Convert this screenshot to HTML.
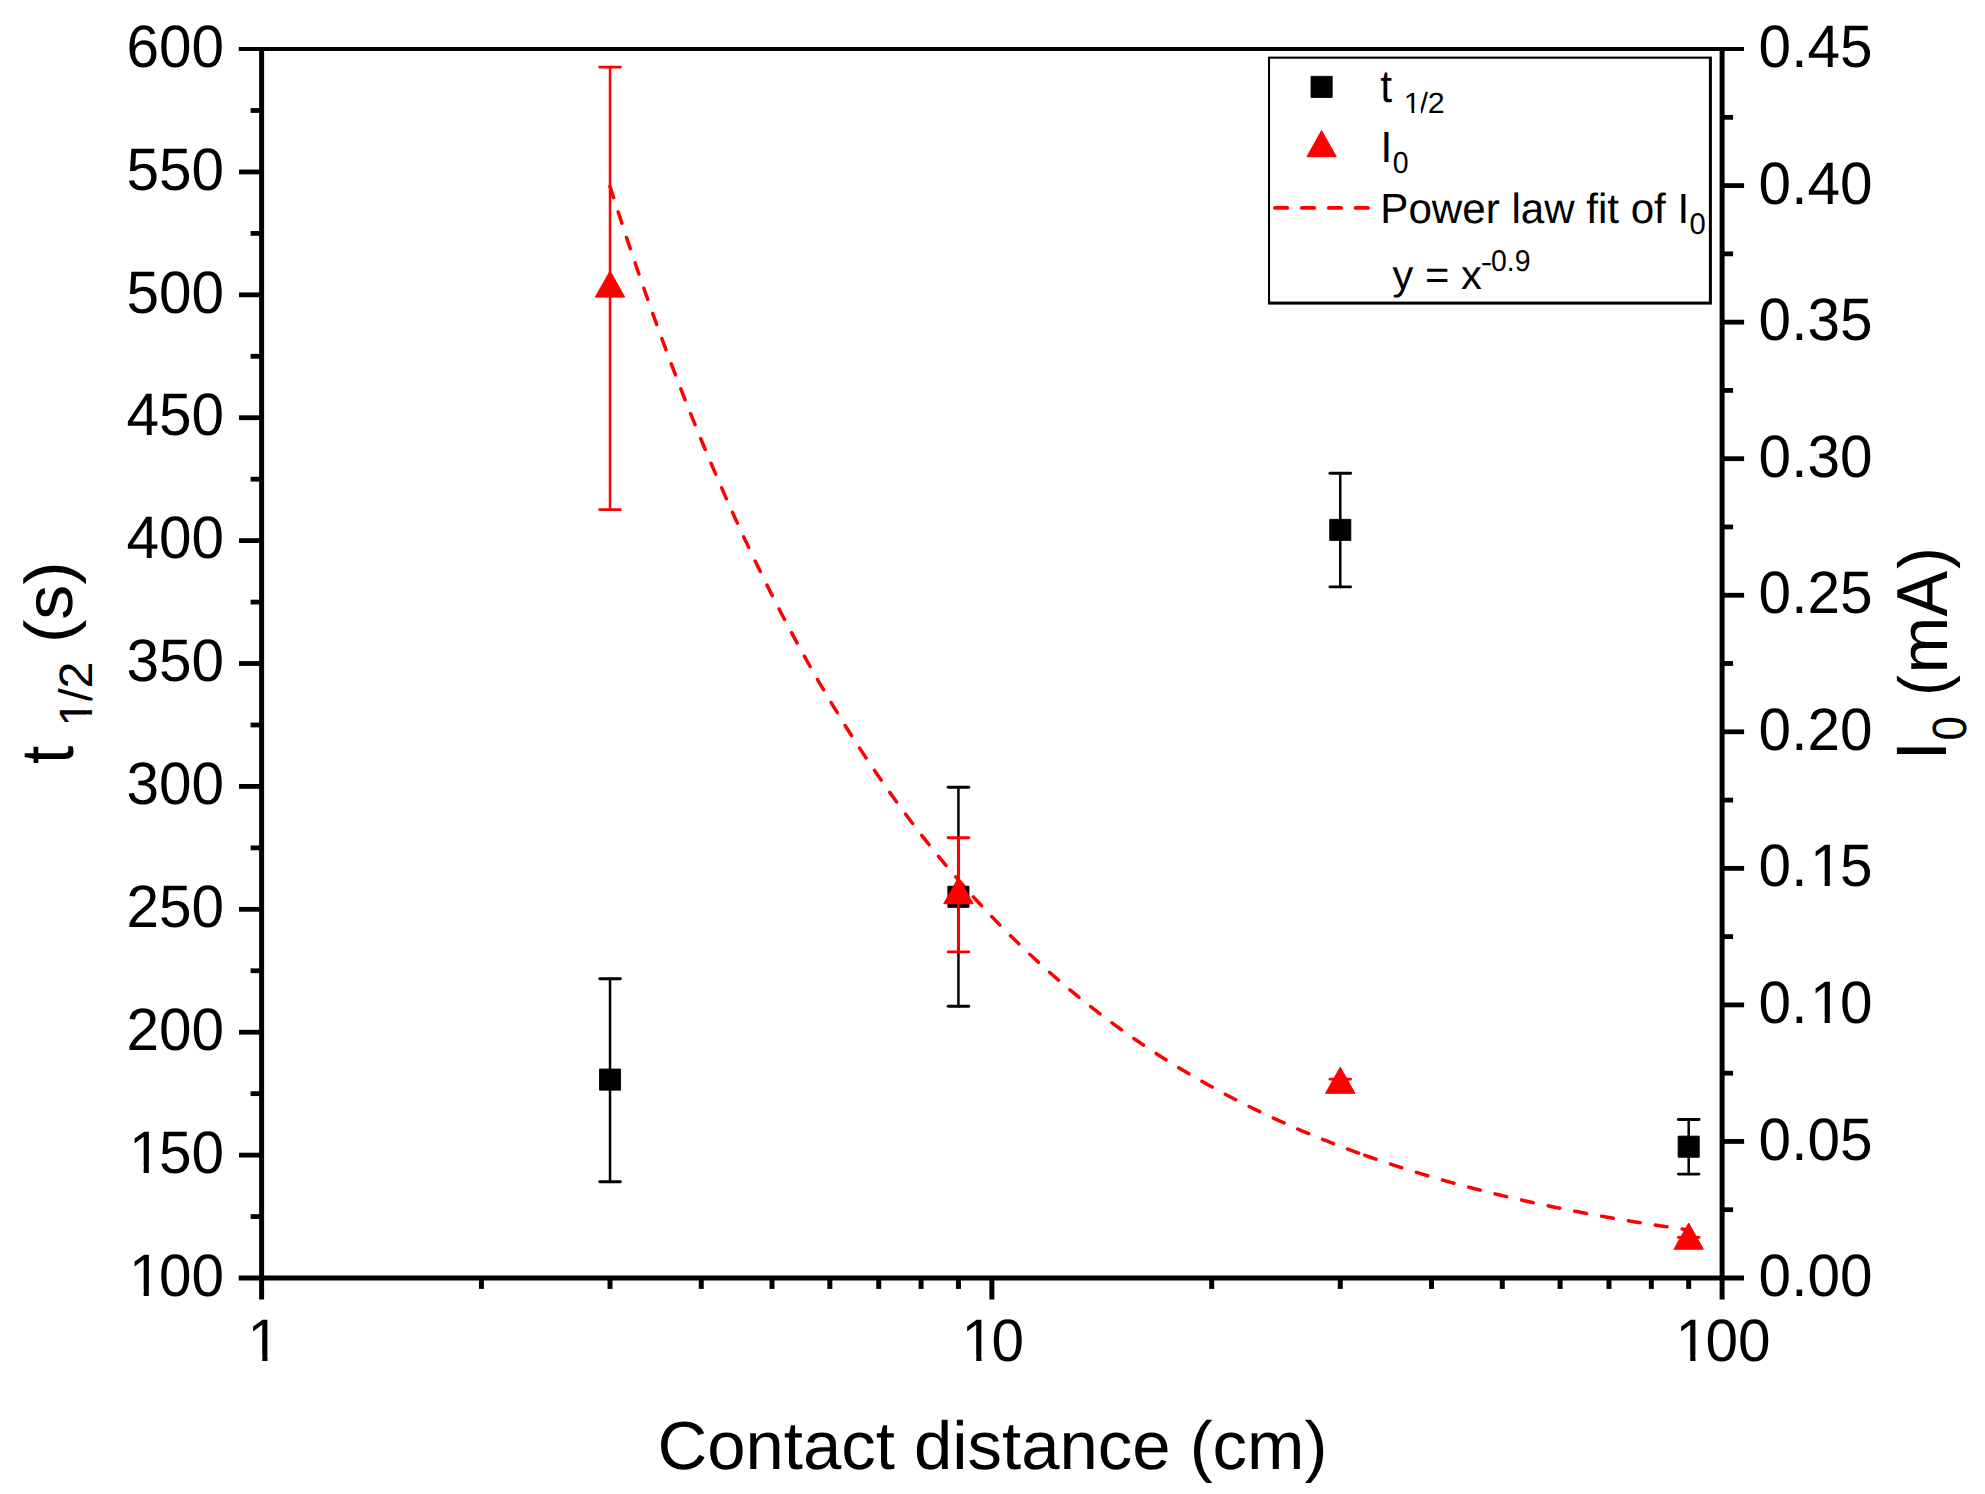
<!DOCTYPE html>
<html lang="en"><head><meta charset="utf-8"><title>t1/2 and I0 vs contact distance</title>
<style>html,body{margin:0;padding:0;background:#fff;}svg{display:block;}text{font-family:"Liberation Sans",sans-serif;fill:#000;font-kerning:none;text-rendering:geometricPrecision;}</style>
</head><body>
<svg width="1985" height="1494" viewBox="0 0 1985 1494">
<rect x="0" y="0" width="1985" height="1494" fill="#ffffff"/>
<g stroke="#000" fill="none" stroke-linecap="butt">
<line x1="238.7" y1="49.05" x2="1744.0" y2="49.05" stroke-width="4.1"/>
<line x1="238.7" y1="1278.0" x2="1744.0" y2="1278.0" stroke-width="4.8"/>
<line x1="261.6" y1="47.00" x2="261.6" y2="1299.50" stroke-width="5.0"/>
<line x1="1722.1" y1="47.00" x2="1722.1" y2="1299.50" stroke-width="5.0"/>
<line x1="239.00" y1="1155.11" x2="261.60" y2="1155.11" stroke-width="4.8"/>
<line x1="239.00" y1="1032.21" x2="261.60" y2="1032.21" stroke-width="4.8"/>
<line x1="239.00" y1="909.32" x2="261.60" y2="909.32" stroke-width="4.8"/>
<line x1="239.00" y1="786.42" x2="261.60" y2="786.42" stroke-width="4.8"/>
<line x1="239.00" y1="663.52" x2="261.60" y2="663.52" stroke-width="4.8"/>
<line x1="239.00" y1="540.63" x2="261.60" y2="540.63" stroke-width="4.8"/>
<line x1="239.00" y1="417.74" x2="261.60" y2="417.74" stroke-width="4.8"/>
<line x1="239.00" y1="294.84" x2="261.60" y2="294.84" stroke-width="4.8"/>
<line x1="239.00" y1="171.94" x2="261.60" y2="171.94" stroke-width="4.8"/>
<line x1="250.60" y1="1216.55" x2="261.60" y2="1216.55" stroke-width="4.8"/>
<line x1="250.60" y1="1093.66" x2="261.60" y2="1093.66" stroke-width="4.8"/>
<line x1="250.60" y1="970.76" x2="261.60" y2="970.76" stroke-width="4.8"/>
<line x1="250.60" y1="847.87" x2="261.60" y2="847.87" stroke-width="4.8"/>
<line x1="250.60" y1="724.97" x2="261.60" y2="724.97" stroke-width="4.8"/>
<line x1="250.60" y1="602.08" x2="261.60" y2="602.08" stroke-width="4.8"/>
<line x1="250.60" y1="479.18" x2="261.60" y2="479.18" stroke-width="4.8"/>
<line x1="250.60" y1="356.29" x2="261.60" y2="356.29" stroke-width="4.8"/>
<line x1="250.60" y1="233.39" x2="261.60" y2="233.39" stroke-width="4.8"/>
<line x1="250.60" y1="110.50" x2="261.60" y2="110.50" stroke-width="4.8"/>
<line x1="1722.10" y1="1141.45" x2="1744.10" y2="1141.45" stroke-width="4.8"/>
<line x1="1722.10" y1="1004.90" x2="1744.10" y2="1004.90" stroke-width="4.8"/>
<line x1="1722.10" y1="868.35" x2="1744.10" y2="868.35" stroke-width="4.8"/>
<line x1="1722.10" y1="731.80" x2="1744.10" y2="731.80" stroke-width="4.8"/>
<line x1="1722.10" y1="595.25" x2="1744.10" y2="595.25" stroke-width="4.8"/>
<line x1="1722.10" y1="458.70" x2="1744.10" y2="458.70" stroke-width="4.8"/>
<line x1="1722.10" y1="322.15" x2="1744.10" y2="322.15" stroke-width="4.8"/>
<line x1="1722.10" y1="185.60" x2="1744.10" y2="185.60" stroke-width="4.8"/>
<line x1="1722.10" y1="1209.72" x2="1733.10" y2="1209.72" stroke-width="4.8"/>
<line x1="1722.10" y1="1073.17" x2="1733.10" y2="1073.17" stroke-width="4.8"/>
<line x1="1722.10" y1="936.62" x2="1733.10" y2="936.62" stroke-width="4.8"/>
<line x1="1722.10" y1="800.08" x2="1733.10" y2="800.08" stroke-width="4.8"/>
<line x1="1722.10" y1="663.52" x2="1733.10" y2="663.52" stroke-width="4.8"/>
<line x1="1722.10" y1="526.97" x2="1733.10" y2="526.97" stroke-width="4.8"/>
<line x1="1722.10" y1="390.42" x2="1733.10" y2="390.42" stroke-width="4.8"/>
<line x1="1722.10" y1="253.87" x2="1733.10" y2="253.87" stroke-width="4.8"/>
<line x1="1722.10" y1="117.32" x2="1733.10" y2="117.32" stroke-width="4.8"/>
<line x1="991.85" y1="1278.0" x2="991.85" y2="1299.50" stroke-width="5.0"/>
<line x1="481.43" y1="1278.0" x2="481.43" y2="1288.90" stroke-width="5.0"/>
<line x1="610.02" y1="1278.0" x2="610.02" y2="1288.90" stroke-width="5.0"/>
<line x1="701.25" y1="1278.0" x2="701.25" y2="1288.90" stroke-width="5.0"/>
<line x1="772.02" y1="1278.0" x2="772.02" y2="1288.90" stroke-width="5.0"/>
<line x1="829.84" y1="1278.0" x2="829.84" y2="1288.90" stroke-width="5.0"/>
<line x1="878.73" y1="1278.0" x2="878.73" y2="1288.90" stroke-width="5.0"/>
<line x1="921.08" y1="1278.0" x2="921.08" y2="1288.90" stroke-width="5.0"/>
<line x1="958.44" y1="1278.0" x2="958.44" y2="1288.90" stroke-width="5.0"/>
<line x1="1211.68" y1="1278.0" x2="1211.68" y2="1288.90" stroke-width="5.0"/>
<line x1="1340.27" y1="1278.0" x2="1340.27" y2="1288.90" stroke-width="5.0"/>
<line x1="1431.50" y1="1278.0" x2="1431.50" y2="1288.90" stroke-width="5.0"/>
<line x1="1502.27" y1="1278.0" x2="1502.27" y2="1288.90" stroke-width="5.0"/>
<line x1="1560.09" y1="1278.0" x2="1560.09" y2="1288.90" stroke-width="5.0"/>
<line x1="1608.98" y1="1278.0" x2="1608.98" y2="1288.90" stroke-width="5.0"/>
<line x1="1651.33" y1="1278.0" x2="1651.33" y2="1288.90" stroke-width="5.0"/>
<line x1="1688.69" y1="1278.0" x2="1688.69" y2="1288.90" stroke-width="5.0"/>
</g>
<path d="M610.02,186.46 L615.45,203.49 L620.88,220.25 L626.31,236.75 L631.74,253.00 L637.17,268.98 L642.60,284.72 L648.03,300.22 L653.46,315.47 L658.89,330.49 L664.32,345.27 L669.74,359.82 L675.17,374.14 L680.60,388.24 L686.03,402.12 L691.46,415.78 L696.89,429.23 L702.32,442.47 L707.75,455.50 L713.18,468.33 L718.61,480.96 L724.04,493.40 L729.47,505.64 L734.90,517.68 L740.33,529.54 L745.76,541.22 L751.19,552.71 L756.62,564.03 L762.05,575.16 L767.48,586.13 L772.91,596.92 L778.34,607.54 L783.77,618.00 L789.20,628.30 L794.63,638.43 L800.06,648.41 L805.49,658.23 L810.92,667.90 L816.35,677.42 L821.78,686.78 L827.21,696.01 L832.64,705.08 L838.07,714.02 L843.50,722.82 L848.93,731.48 L854.36,740.00 L859.79,748.40 L865.22,756.66 L870.64,764.79 L876.07,772.80 L881.50,780.68 L886.93,788.43 L892.36,796.07 L897.79,803.59 L903.22,810.99 L908.65,818.27 L914.08,825.45 L919.51,832.51 L924.94,839.45 L930.37,846.30 L935.80,853.03 L941.23,859.66 L946.66,866.18 L952.09,872.61 L957.52,878.93 L962.95,885.16 L968.38,891.29 L973.81,897.32 L979.24,903.26 L984.67,909.10 L990.10,914.86 L995.53,920.52 L1000.96,926.10 L1006.39,931.59 L1011.82,936.99 L1017.25,942.31 L1022.68,947.55 L1028.11,952.70 L1033.54,957.78 L1038.97,962.77 L1044.40,967.69 L1049.83,972.53 L1055.26,977.29 L1060.69,981.98 L1066.11,986.60 L1071.54,991.15 L1076.97,995.62 L1082.40,1000.03 L1087.83,1004.36 L1093.26,1008.63 L1098.69,1012.83 L1104.12,1016.97 L1109.55,1021.04 L1114.98,1025.05 L1120.41,1029.00 L1125.84,1032.88 L1131.27,1036.70 L1136.70,1040.47 L1142.13,1044.17 L1147.56,1047.82 L1152.99,1051.41 L1158.42,1054.95 L1163.85,1058.42 L1169.28,1061.85 L1174.71,1065.22 L1180.14,1068.54 L1185.57,1071.81 L1191.00,1075.02 L1196.43,1078.19 L1201.86,1081.31 L1207.29,1084.38 L1212.72,1087.40 L1218.15,1090.37 L1223.58,1093.30 L1229.01,1096.18 L1234.44,1099.01 L1239.87,1101.81 L1245.30,1104.55 L1250.73,1107.26 L1256.16,1109.92 L1261.59,1112.55 L1267.01,1115.13 L1272.44,1117.67 L1277.87,1120.17 L1283.30,1122.63 L1288.73,1125.05 L1294.16,1127.44 L1299.59,1129.79 L1305.02,1132.10 L1310.45,1134.38 L1315.88,1136.62 L1321.31,1138.82 L1326.74,1140.99 L1332.17,1143.13 L1337.60,1145.23 L1343.03,1147.30 L1348.46,1149.34 L1353.89,1151.35 L1359.32,1153.33 L1364.75,1155.27" fill="none" stroke="#ff0000" stroke-width="3.5" stroke-dasharray="11.8 15.0" stroke-linecap="round" stroke-linejoin="round"/>
<path d="M1364.75,1155.27 L1367.08,1156.10 L1369.41,1156.92 L1371.74,1157.73 L1374.07,1158.54 L1376.40,1159.34 L1378.73,1160.14 L1381.06,1160.93 L1383.39,1161.72 L1385.72,1162.50 L1388.05,1163.28 L1390.39,1164.05 L1392.72,1164.82 L1395.05,1165.58 L1397.38,1166.33 L1399.71,1167.09 L1402.04,1167.83 L1404.37,1168.57 L1406.70,1169.31 L1409.03,1170.04 L1411.36,1170.77 L1413.69,1171.49 L1416.02,1172.20 L1418.35,1172.91 L1420.68,1173.62 L1423.01,1174.32 L1425.34,1175.02 L1427.67,1175.71 L1430.00,1176.40 L1432.33,1177.08 L1434.66,1177.76 L1436.99,1178.44 L1439.33,1179.11 L1441.66,1179.77 L1443.99,1180.43 L1446.32,1181.09 L1448.65,1181.74 L1450.98,1182.39 L1453.31,1183.03 L1455.64,1183.67 L1457.97,1184.30 L1460.30,1184.93 L1462.63,1185.56 L1464.96,1186.18 L1467.29,1186.80 L1469.62,1187.41 L1471.95,1188.02 L1474.28,1188.63 L1476.61,1189.23 L1478.94,1189.82 L1481.27,1190.42 L1483.60,1191.01 L1485.93,1191.59 L1488.27,1192.17 L1490.60,1192.75 L1492.93,1193.32 L1495.26,1193.89 L1497.59,1194.46 L1499.92,1195.02 L1502.25,1195.58 L1504.58,1196.13 L1506.91,1196.68 L1509.24,1197.23 L1511.57,1197.77 L1513.90,1198.31 L1516.23,1198.85 L1518.56,1199.38 L1520.89,1199.91 L1523.22,1200.44 L1525.55,1200.96 L1527.88,1201.47 L1530.21,1201.99 L1532.54,1202.50 L1534.87,1203.01 L1537.20,1203.51 L1539.54,1204.01 L1541.87,1204.51 L1544.20,1205.01 L1546.53,1205.50 L1548.86,1205.98 L1551.19,1206.47 L1553.52,1206.95 L1555.85,1207.43 L1558.18,1207.90 L1560.51,1208.37 L1562.84,1208.84 L1565.17,1209.31 L1567.50,1209.77 L1569.83,1210.23 L1572.16,1210.68 L1574.49,1211.14 L1576.82,1211.59 L1579.15,1212.03 L1581.48,1212.48 L1583.81,1212.92 L1586.14,1213.35 L1588.48,1213.79 L1590.81,1214.22 L1593.14,1214.65 L1595.47,1215.08 L1597.80,1215.50 L1600.13,1215.92 L1602.46,1216.34 L1604.79,1216.75 L1607.12,1217.16 L1609.45,1217.57 L1611.78,1217.98 L1614.11,1218.38 L1616.44,1218.78 L1618.77,1219.18 L1621.10,1219.58 L1623.43,1219.97 L1625.76,1220.36 L1628.09,1220.75 L1630.42,1221.13 L1632.75,1221.52 L1635.08,1221.90 L1637.42,1222.27 L1639.75,1222.65 L1642.08,1223.02 L1644.41,1223.39 L1646.74,1223.76 L1649.07,1224.12 L1651.40,1224.48 L1653.73,1224.84 L1656.06,1225.20 L1658.39,1225.56 L1660.72,1225.91 L1663.05,1226.26 L1665.38,1226.61 L1667.71,1226.95 L1670.04,1227.30 L1672.37,1227.64 L1674.70,1227.98 L1677.03,1228.31 L1679.36,1228.65 L1681.69,1228.98 L1684.02,1229.31 L1686.36,1229.64 L1688.69,1229.96" fill="none" stroke="#ff0000" stroke-width="3.5" stroke-dasharray="11.9 15.3" stroke-linecap="round" stroke-linejoin="round"/>
<g stroke="#000" stroke-width="2.9" stroke-linecap="round" fill="none">
<line x1="610.02" y1="978.80" x2="610.02" y2="1181.70" stroke-width="2.5"/>
<line x1="599.72" y1="978.80" x2="620.32" y2="978.80"/>
<line x1="599.72" y1="1181.70" x2="620.32" y2="1181.70"/>
</g>
<g stroke="#000" stroke-width="2.9" stroke-linecap="round" fill="none">
<line x1="958.44" y1="787.20" x2="958.44" y2="1006.30" stroke-width="2.5"/>
<line x1="948.14" y1="787.20" x2="968.74" y2="787.20"/>
<line x1="948.14" y1="1006.30" x2="968.74" y2="1006.30"/>
</g>
<g stroke="#000" stroke-width="2.9" stroke-linecap="round" fill="none">
<line x1="1340.27" y1="473.20" x2="1340.27" y2="586.90" stroke-width="2.5"/>
<line x1="1329.97" y1="473.20" x2="1350.57" y2="473.20"/>
<line x1="1329.97" y1="586.90" x2="1350.57" y2="586.90"/>
</g>
<g stroke="#000" stroke-width="2.9" stroke-linecap="round" fill="none">
<line x1="1688.69" y1="1119.45" x2="1688.69" y2="1174.10" stroke-width="2.5"/>
<line x1="1678.39" y1="1119.45" x2="1698.99" y2="1119.45"/>
<line x1="1678.39" y1="1174.10" x2="1698.99" y2="1174.10"/>
</g>
<rect x="599.47" y="1069.05" width="21.1" height="21.1" fill="#000" stroke="#000" stroke-width="0.9" stroke-linejoin="round"/>
<rect x="947.89" y="886.25" width="21.1" height="21.1" fill="#000" stroke="#000" stroke-width="0.9" stroke-linejoin="round"/>
<rect x="1329.72" y="519.35" width="21.1" height="21.1" fill="#000" stroke="#000" stroke-width="0.9" stroke-linejoin="round"/>
<rect x="1678.14" y="1136.15" width="21.1" height="21.1" fill="#000" stroke="#000" stroke-width="0.9" stroke-linejoin="round"/>
<g stroke="#ff0000" stroke-width="2.9" stroke-linecap="round" fill="none">
<line x1="610.02" y1="67.10" x2="610.02" y2="509.65" stroke-width="2.5"/>
<line x1="599.72" y1="67.10" x2="620.32" y2="67.10"/>
<line x1="599.72" y1="509.65" x2="620.32" y2="509.65"/>
</g>
<g stroke="#ff0000" stroke-width="2.9" stroke-linecap="round" fill="none">
<line x1="958.44" y1="837.80" x2="958.44" y2="951.90" stroke-width="2.5"/>
<line x1="948.14" y1="837.80" x2="968.74" y2="837.80"/>
<line x1="948.14" y1="951.90" x2="968.74" y2="951.90"/>
</g>
<g stroke="#ff0000" stroke-width="2.9" stroke-linecap="round" fill="none">
<line x1="1340.27" y1="1079.10" x2="1340.27" y2="1090.10" stroke-width="2.5"/>
<line x1="1329.97" y1="1079.10" x2="1350.57" y2="1079.10"/>
<line x1="1329.97" y1="1090.10" x2="1350.57" y2="1090.10"/>
</g>
<g stroke="#ff0000" stroke-width="2.9" stroke-linecap="round" fill="none">
<line x1="1688.69" y1="1237.40" x2="1688.69" y2="1244.00" stroke-width="2.5"/>
<line x1="1678.39" y1="1237.40" x2="1698.99" y2="1237.40"/>
<line x1="1678.39" y1="1244.00" x2="1698.99" y2="1244.00"/>
</g>
<path d="M610.02,270.96 L624.72,297.12 L595.32,297.12 Z" fill="#ff0000" stroke="#ff0000" stroke-width="1.0" stroke-linejoin="round"/>
<path d="M958.44,877.56 L973.14,903.72 L943.74,903.72 Z" fill="#ff0000" stroke="#ff0000" stroke-width="1.0" stroke-linejoin="round"/>
<path d="M1340.27,1067.16 L1354.97,1093.32 L1325.57,1093.32 Z" fill="#ff0000" stroke="#ff0000" stroke-width="1.0" stroke-linejoin="round"/>
<path d="M1688.69,1223.06 L1703.39,1249.22 L1673.99,1249.22 Z" fill="#ff0000" stroke="#ff0000" stroke-width="1.0" stroke-linejoin="round"/>
<rect x="1268.0" y="56.6" width="443.9" height="248.0" fill="#000"/>
<rect x="1270.05" y="58.7" width="438.85" height="242.90" fill="#fff"/>
<rect x="1311.05" y="76.35" width="21.1" height="21.1" fill="#000" stroke="#000" stroke-width="0.9" stroke-linejoin="round"/>
<path d="M1321.60,130.56 L1336.30,156.72 L1306.90,156.72 Z" fill="#ff0000" stroke="#ff0000" stroke-width="1.0" stroke-linejoin="round"/>
<line x1="1274.9" y1="207.9" x2="1368.0" y2="207.9" stroke="#ff0000" stroke-width="3.8" stroke-dasharray="12.4 14.5" stroke-linecap="round"/>
<text><tspan x="657.50" y="1468.94" font-size="67.89" textLength="669.87" lengthAdjust="spacingAndGlyphs">Contact distance (cm)</tspan></text>
<text transform="rotate(-90)"><tspan x="-763.94" y="73.32" font-size="74.74" textLength="18.22" lengthAdjust="spacingAndGlyphs">t</tspan> <tspan x="-726.66" y="91.74" font-size="46.84" textLength="26.93" lengthAdjust="spacingAndGlyphs">1</tspan><tspan x="-701.85" y="91.74" font-size="46.84" textLength="40.39" lengthAdjust="spacingAndGlyphs">/2</tspan> <tspan x="-643.04" y="72.27" font-size="67.30" textLength="81.58" lengthAdjust="spacingAndGlyphs">(s)</tspan></text>
<g transform="rotate(-90)"><rect x="-724.57" y="86.64" width="10.09" height="6.70" fill="#fff"/><rect x="-710.20" y="86.64" width="9.71" height="6.70" fill="#fff"/></g>
<text transform="rotate(-90)"><tspan x="-760.37" y="1946.45" font-size="71.37" textLength="19.07" lengthAdjust="spacingAndGlyphs">I</tspan><tspan x="-740.52" y="1965.53" font-size="48.02" textLength="24.55" lengthAdjust="spacingAndGlyphs">0</tspan> <tspan x="-695.88" y="1945.92" font-size="67.78" textLength="20.85" lengthAdjust="spacingAndGlyphs">(</tspan><tspan x="-673.53" y="1946.80" font-size="67.65" textLength="56.83" lengthAdjust="spacingAndGlyphs">m</tspan><tspan x="-616.68" y="1946.80" font-size="72.38" textLength="45.77" lengthAdjust="spacingAndGlyphs">A</tspan><tspan x="-568.78" y="1945.92" font-size="67.78" textLength="21.60" lengthAdjust="spacingAndGlyphs">)</tspan></text>
<text><tspan x="1380.36" y="101.64" font-size="45.55" textLength="11.80" lengthAdjust="spacingAndGlyphs">t</tspan> <tspan x="1403.88" y="112.72" font-size="29.18" textLength="16.90" lengthAdjust="spacingAndGlyphs">1</tspan><tspan x="1419.44" y="112.72" font-size="29.18" textLength="25.34" lengthAdjust="spacingAndGlyphs">/2</tspan></text>
<g><rect x="1404.59" y="108.93" width="6.93" height="5.38" fill="#fff"/><rect x="1414.20" y="108.93" width="6.69" height="5.38" fill="#fff"/></g>
<text><tspan x="1380.50" y="162.40" font-size="43.75" textLength="11.69" lengthAdjust="spacingAndGlyphs">I</tspan><tspan x="1392.75" y="173.35" font-size="30.44" textLength="15.87" lengthAdjust="spacingAndGlyphs">0</tspan></text>
<text><tspan x="1380.35" y="222.69" font-size="42.21" textLength="308.88" lengthAdjust="spacingAndGlyphs">Power law fit of I</tspan><tspan x="1689.60" y="233.56" font-size="29.94" textLength="16.23" lengthAdjust="spacingAndGlyphs">0</tspan></text>
<text><tspan x="1392.60" y="288.53" font-size="41.31" textLength="89.25" lengthAdjust="spacingAndGlyphs">y = x</tspan><tspan x="1480.75" y="272.02" font-size="29.44" textLength="11.59" lengthAdjust="spacingAndGlyphs">-</tspan><tspan x="1490.99" y="271.41" font-size="30.08" textLength="39.45" lengthAdjust="spacingAndGlyphs">0.9</tspan></text>
<text><tspan x="128.97" y="1295.70" font-size="59.96" textLength="32.53" lengthAdjust="spacingAndGlyphs">1</tspan><tspan x="158.93" y="1295.70" font-size="59.96" textLength="65.07" lengthAdjust="spacingAndGlyphs">00</tspan></text><rect x="131.82" y="1289.62" width="11.85" height="7.68" fill="#fff"/><rect x="148.85" y="1289.62" width="11.40" height="7.68" fill="#fff"/>
<text><tspan x="128.97" y="1172.81" font-size="59.96" textLength="32.53" lengthAdjust="spacingAndGlyphs">1</tspan><tspan x="158.93" y="1172.81" font-size="59.96" textLength="65.07" lengthAdjust="spacingAndGlyphs">50</tspan></text><rect x="131.82" y="1166.73" width="11.85" height="7.68" fill="#fff"/><rect x="148.85" y="1166.73" width="11.40" height="7.68" fill="#fff"/>
<text><tspan x="126.40" y="1049.91" font-size="59.96" textLength="97.60" lengthAdjust="spacingAndGlyphs">200</tspan></text>
<text><tspan x="126.40" y="927.02" font-size="59.96" textLength="97.60" lengthAdjust="spacingAndGlyphs">250</tspan></text>
<text><tspan x="126.40" y="804.12" font-size="59.96" textLength="97.60" lengthAdjust="spacingAndGlyphs">300</tspan></text>
<text><tspan x="126.40" y="681.23" font-size="59.96" textLength="97.60" lengthAdjust="spacingAndGlyphs">350</tspan></text>
<text><tspan x="126.40" y="558.33" font-size="59.96" textLength="97.60" lengthAdjust="spacingAndGlyphs">400</tspan></text>
<text><tspan x="126.40" y="435.44" font-size="59.96" textLength="97.60" lengthAdjust="spacingAndGlyphs">450</tspan></text>
<text><tspan x="126.40" y="312.54" font-size="59.96" textLength="97.60" lengthAdjust="spacingAndGlyphs">500</tspan></text>
<text><tspan x="126.40" y="189.64" font-size="59.96" textLength="97.60" lengthAdjust="spacingAndGlyphs">550</tspan></text>
<text><tspan x="126.40" y="66.75" font-size="59.96" textLength="97.60" lengthAdjust="spacingAndGlyphs">600</tspan></text>
<text><tspan x="1758.60" y="1296.10" font-size="59.96" textLength="113.86" lengthAdjust="spacingAndGlyphs">0.00</tspan></text>
<text><tspan x="1758.60" y="1159.55" font-size="59.96" textLength="113.86" lengthAdjust="spacingAndGlyphs">0.05</tspan></text>
<text><tspan x="1758.60" y="1023.00" font-size="59.96" textLength="48.79" lengthAdjust="spacingAndGlyphs">0.</tspan><tspan x="1809.96" y="1023.00" font-size="59.96" textLength="32.53" lengthAdjust="spacingAndGlyphs">1</tspan><tspan x="1839.92" y="1023.00" font-size="59.96" textLength="32.53" lengthAdjust="spacingAndGlyphs">0</tspan></text><rect x="1812.81" y="1016.92" width="11.85" height="7.68" fill="#fff"/><rect x="1829.84" y="1016.92" width="11.40" height="7.68" fill="#fff"/>
<text><tspan x="1758.60" y="886.45" font-size="59.96" textLength="48.79" lengthAdjust="spacingAndGlyphs">0.</tspan><tspan x="1809.96" y="886.45" font-size="59.96" textLength="32.53" lengthAdjust="spacingAndGlyphs">1</tspan><tspan x="1839.92" y="886.45" font-size="59.96" textLength="32.53" lengthAdjust="spacingAndGlyphs">5</tspan></text><rect x="1812.81" y="880.37" width="11.85" height="7.68" fill="#fff"/><rect x="1829.84" y="880.37" width="11.40" height="7.68" fill="#fff"/>
<text><tspan x="1758.60" y="749.90" font-size="59.96" textLength="113.86" lengthAdjust="spacingAndGlyphs">0.20</tspan></text>
<text><tspan x="1758.60" y="613.35" font-size="59.96" textLength="113.86" lengthAdjust="spacingAndGlyphs">0.25</tspan></text>
<text><tspan x="1758.60" y="476.80" font-size="59.96" textLength="113.86" lengthAdjust="spacingAndGlyphs">0.30</tspan></text>
<text><tspan x="1758.60" y="340.25" font-size="59.96" textLength="113.86" lengthAdjust="spacingAndGlyphs">0.35</tspan></text>
<text><tspan x="1758.60" y="203.70" font-size="59.96" textLength="113.86" lengthAdjust="spacingAndGlyphs">0.40</tspan></text>
<text><tspan x="1758.60" y="67.15" font-size="59.96" textLength="113.86" lengthAdjust="spacingAndGlyphs">0.45</tspan></text>
<text><tspan x="247.60" y="1361.00" font-size="59.96" textLength="32.53" lengthAdjust="spacingAndGlyphs">1</tspan></text><rect x="250.46" y="1354.92" width="11.85" height="7.68" fill="#fff"/><rect x="267.48" y="1354.92" width="11.40" height="7.68" fill="#fff"/>
<text><tspan x="961.59" y="1361.00" font-size="59.96" textLength="32.53" lengthAdjust="spacingAndGlyphs">1</tspan><tspan x="991.55" y="1361.00" font-size="59.96" textLength="32.53" lengthAdjust="spacingAndGlyphs">0</tspan></text><rect x="964.44" y="1354.92" width="11.85" height="7.68" fill="#fff"/><rect x="981.47" y="1354.92" width="11.40" height="7.68" fill="#fff"/>
<text><tspan x="1675.57" y="1361.00" font-size="59.96" textLength="32.53" lengthAdjust="spacingAndGlyphs">1</tspan><tspan x="1705.53" y="1361.00" font-size="59.96" textLength="65.07" lengthAdjust="spacingAndGlyphs">00</tspan></text><rect x="1678.42" y="1354.92" width="11.85" height="7.68" fill="#fff"/><rect x="1695.45" y="1354.92" width="11.40" height="7.68" fill="#fff"/>
</svg>
</body></html>
